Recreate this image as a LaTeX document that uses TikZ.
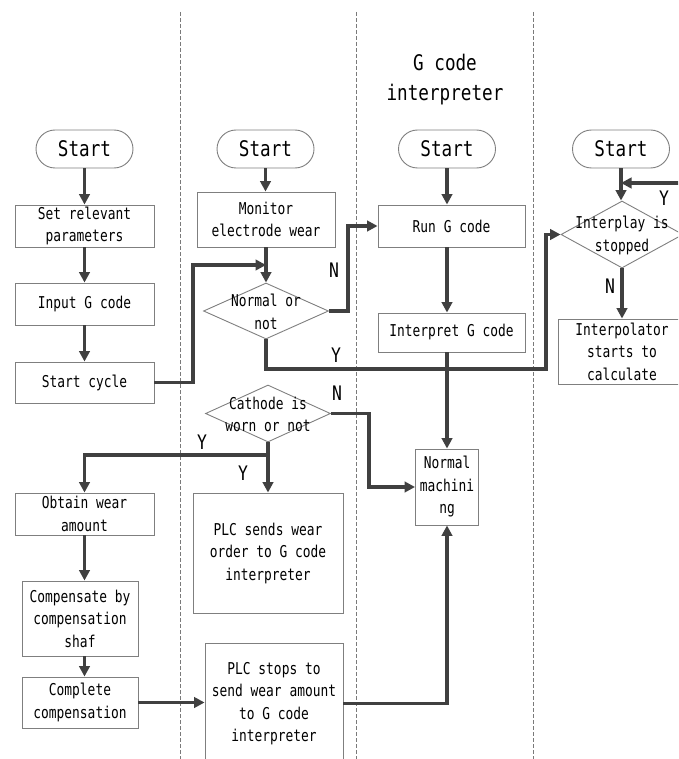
\documentclass[tikz,border=0pt]{standalone}
\usepackage{fontspec}
\setmainfont{DejaVu Sans Mono}[FakeStretch=0.79]
\newfontfamily\bigfont{DejaVu Sans Mono}[FakeStretch=0.82]
\usetikzlibrary{arrows.meta,shapes.geometric}
\definecolor{flowline}{HTML}{404040}
\definecolor{boxline}{HTML}{7F7F7F}
\definecolor{laneline}{HTML}{7A7A7A}
\tikzset{
  base/.style={draw=boxline, line width=0.9pt, fill=white, align=center, inner sep=0pt,
    font=\fontsize{16.3}{22.5}\selectfont},
  proc/.style={base, rectangle},
  term/.style={base, rectangle, rounded corners=19pt, minimum width=97pt, minimum height=38pt,
    font=\bigfont\fontsize{21.5}{30}\selectfont},
  decision/.style={base, diamond, minimum width=125pt, minimum height=57pt},
  dtext/.style={align=center, inner sep=0pt, font=\fontsize{16.3}{22.5}\selectfont},
  flow/.style={draw=flowline, line width=3.1pt, -{Triangle[length=10.5pt,width=10.5pt]}},
  plain/.style={draw=flowline, line width=3.1pt},
  yn/.style={font=\bigfont\fontsize{20}{20}\selectfont, inner sep=0pt},
  lane/.style={draw=laneline, line width=0.7pt, dash pattern=on 4pt off 2pt},
  heading/.style={align=center, inner sep=0pt, font=\bigfont\fontsize{21.5}{30}\selectfont}
}
\begin{document}
\begin{tikzpicture}[x=1pt,y=-1pt]
\path[use as bounding box] (0,0) rectangle (678,759);
\clip (0,0) rectangle (678,759);

% swimlane separators
\draw[lane] (180,12) -- (180,759);
\draw[lane] (356,12) -- (356,759);
\draw[lane] (533,12) -- (533,759);

% lane heading
\node[heading] (ttl) at (445,80) {G code\\interpreter};

% first lane
\node[term] (s1) at (84.5,149) {Start};
\node[proc, minimum width=139pt, minimum height=42pt] (b1) at (84.5,226) {Set relevant\\parameters};
\node[proc, minimum width=139pt, minimum height=42pt] (b2) at (84.5,304) {Input G code};
\node[proc, minimum width=139pt, minimum height=41pt] (b3) at (84.5,382.5) {Start cycle};
\node[proc, minimum width=139pt, minimum height=42pt] (b4) at (84.5,514) {Obtain wear\\amount};
\node[proc, minimum width=116pt, minimum height=75pt] (b5) at (80,618.5) {Compensate by\\compensation\\shaf};
\node[proc, minimum width=116pt, minimum height=51pt] (b6) at (80,702.5) {Complete\\compensation};

% second lane
\node[term] (s2) at (265.5,149) {Start};
\node[proc, minimum width=138pt, minimum height=55pt] (m1) at (266,219.5) {Monitor\\electrode wear};
\node[decision, minimum width=125pt, minimum height=56pt] (d1) at (266,311) {};
\node[dtext] (d1t) at (266,312) {Normal or\\not};
\node[decision, minimum width=125pt, minimum height=57pt] (d2) at (268,413.5) {};
\node[dtext] (d2t) at (268,414.5) {Cathode is\\worn or not};
\node[proc, minimum width=150pt, minimum height=120pt] (p1) at (268,553) {PLC sends wear\\order to G code\\interpreter};
\node[proc, minimum width=138pt, minimum height=121pt] (p2) at (274,703.5) {PLC stops to\\send wear amount\\to G code\\interpreter};

% third lane
\node[term] (s3) at (447,149) {Start};
\node[proc, minimum width=147pt, minimum height=42pt] (r1) at (451.5,226) {Run G code};
\node[proc, minimum width=147pt, minimum height=39pt] (r2) at (451.5,332.5) {Interpret G code};
\node[proc, minimum width=63pt, minimum height=76pt] (nm) at (447,487) {Normal\\machini\\ng};

% fourth lane
\node[term] (s4) at (621,149) {Start};
\node[decision, minimum width=122pt, minimum height=67pt] (d3) at (622,234.5) {};
\node[dtext] (d3t) at (622,235.5) {Interplay is\\stopped};
\node[proc, minimum width=128pt, minimum height=65pt] (i1) at (622,351.5) {Interpolator\\starts to\\calculate};

% connectors, first lane
\draw[flow] (s1) -- (b1);
\draw[flow] (b1) -- (b2);
\draw[flow] (b2) -- (b3);
\coordinate (cj) at (193,265);
\draw[flow] (b3.east) -| (cj) -- (m1.south |- cj);
\draw[flow] (b4.south) -- (b4.south |- b5.north);
\draw[flow] (b4.south |- b5.south) -- (b4.south |- b6.north);
\draw[flow] (b6.east) -- (b6.east -| p2.west);

% connectors, second lane
\draw[flow] (s2.south) -- (s2.south |- m1.north);
\draw[flow] (m1) -- (d1);
\coordinate (nj) at (348,226);
\draw[flow] (d1.east) -| (nj) -- (r1.west);
\coordinate (yj) at (546,369);
\draw[flow] (d1.south) |- (yj) |- (d3.west);
\coordinate (mj) at (369,413.5);
\draw[flow] (d2.east) -- (mj) |- (nm.west);
\coordinate (wj) at (268,455);
\draw[plain] (d2.south) -- (wj);
\draw[flow] (wj) -| (b4.north);
\draw[flow] (wj) -- (p1.north);
\draw[flow] (p2.east) -| (nm.south);

% connectors, third lane
\draw[flow] (s3.south) -- (s3.south |- r1.north);
\draw[flow] (s3.south |- r1.south) -- (s3.south |- r2.north);
\draw[flow] (s3.south |- r2.south) -- (nm.north);

% connectors, fourth lane
\draw[flow] (s4.south) -- (s4.south |- d3.north);
\coordinate (yr) at (700,183);
\draw[flow] (d3.east) -| (yr) -- (s4.south |- yr);
\draw[flow] (d3.south) -- (i1.north);

% branch labels
\node[yn] (ln1) at (334,270) {N};
\node[yn] (ly1) at (336,355) {Y};
\node[yn] (ln2) at (337,393) {N};
\node[yn] (ly2) at (202,442) {Y};
\node[yn] (ly3) at (243,473) {Y};
\node[yn] (ly4) at (664,198) {Y};
\node[yn] (ln3) at (610,286) {N};
\end{tikzpicture}
\end{document}
